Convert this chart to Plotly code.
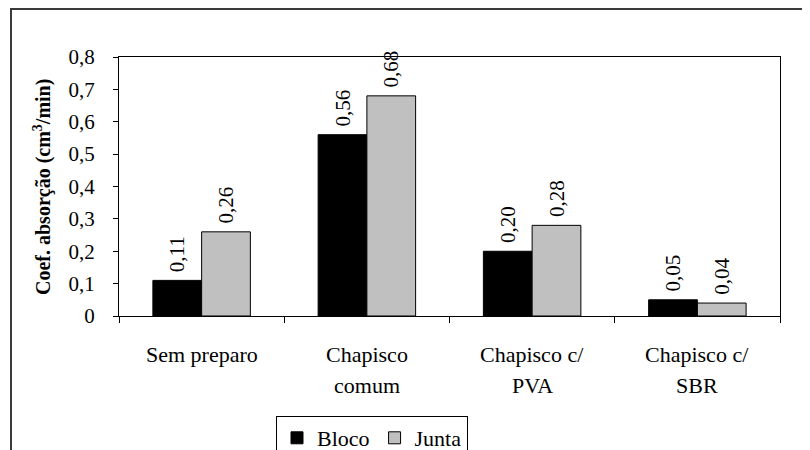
import plotly.graph_objects as go

categories = ["Sem preparo", "Chapisco comum", "Chapisco c/ PVA", "Chapisco c/ SBR"]
label_line1 = ["Sem preparo", "Chapisco", "Chapisco c/", "Chapisco c/"]
label_line2 = ["", "comum", "PVA", "SBR"]
bloco = [0.11, 0.56, 0.20, 0.05]
junta = [0.26, 0.68, 0.28, 0.04]
y_tickvals = [0, 0.1, 0.2, 0.3, 0.4, 0.5, 0.6, 0.7, 0.8]
y_ticktext = ["0", "0,1", "0,2", "0,3", "0,4", "0,5", "0,6", "0,7", "0,8"]

FONT = "Liberation Serif"
OFF = 8  # page body margin
W, H = 802, 442
L, R, T, B = 111, 30, 49, 134
pw, ph = W - L - R, H - T - B

def px_x(x):
    return (x - OFF - L) / pw

def px_y(y):
    return (H - B - (y - OFF)) / ph

fig = go.Figure()
fig.add_trace(go.Bar(
    name="Bloco", x=categories, y=bloco,
    marker=dict(color="#000000", line=dict(color="#000000", width=1)),
    texttemplate="\u00a0%{y:.2f}", textposition="outside", textangle=-90,
    textfont=dict(family=FONT, size=21, color="#000000"),
    cliponaxis=False, constraintext="none",
))
fig.add_trace(go.Bar(
    name="Junta", x=categories, y=junta,
    marker=dict(color="#c0c0c0", line=dict(color="#000000", width=1)),
    texttemplate="\u00a0%{y:.2f}", textposition="outside", textangle=-90,
    textfont=dict(family=FONT, size=21, color="#000000"),
    cliponaxis=False, constraintext="none",
))

annotations = []
for c, l1, l2 in zip(categories, label_line1, label_line2):
    annotations.append(dict(x=c, xref="x", y=px_y(354), yref="paper", text=l1,
                            showarrow=False, xanchor="center", yanchor="middle",
                            font=dict(family=FONT, size=22, color="#000000")))
    if l2:
        annotations.append(dict(x=c, xref="x", y=px_y(385), yref="paper", text=l2,
                                showarrow=False, xanchor="center", yanchor="middle",
                                font=dict(family=FONT, size=22, color="#000000")))
annotations.append(dict(x=px_x(42), xref="paper", y=px_y(187), yref="paper",
                        text="<b>Coef. absorção (cm<sup>3</sup>/min)</b>", textangle=-90,
                        showarrow=False, xanchor="center", yanchor="middle",
                        font=dict(family=FONT, size=20, color="#000000")))

shapes = [
    dict(type="rect", xref="paper", yref="paper",
         x0=px_x(11), x1=px_x(840), y0=px_y(480), y1=px_y(9),
         line=dict(color="#3a3a3a", width=2), fillcolor="rgba(0,0,0,0)", layer="below"),
]

fig.update_layout(
    width=W, height=H,
    margin=dict(l=L, r=R, t=T, b=B, autoexpand=False),
    paper_bgcolor="white", plot_bgcolor="white",
    separators=",.",
    barmode="group", bargap=0.41, bargroupgap=0,
    font=dict(family=FONT, size=21, color="#000000"),
    showlegend=True,
    legend=dict(orientation="h", x=px_x(372), y=px_y(438), xanchor="center", yanchor="middle",
                bordercolor="#000000", borderwidth=1, bgcolor="white",
                font=dict(family=FONT, size=22, color="#000000"),
                itemwidth=30, tracegroupgap=0),
    annotations=annotations,
    shapes=shapes,
    xaxis=dict(type="category", tickson="boundaries", ticks="outside", ticklen=6,
               tickcolor="#000000", showline=True, linecolor="#000000", linewidth=1,
               mirror=True, showticklabels=False, showgrid=False, zeroline=False),
    yaxis=dict(range=[0, 0.8], tickvals=y_tickvals, ticktext=y_ticktext,
               ticks="outside", ticklen=5, tickcolor="#000000",
               showline=True, linecolor="#000000", linewidth=1, mirror=True,
               showgrid=False, zeroline=False, ticklabelstandoff=14,
               tickfont=dict(family=FONT, size=21, color="#000000")),
)

fig.write_html("out.html")
